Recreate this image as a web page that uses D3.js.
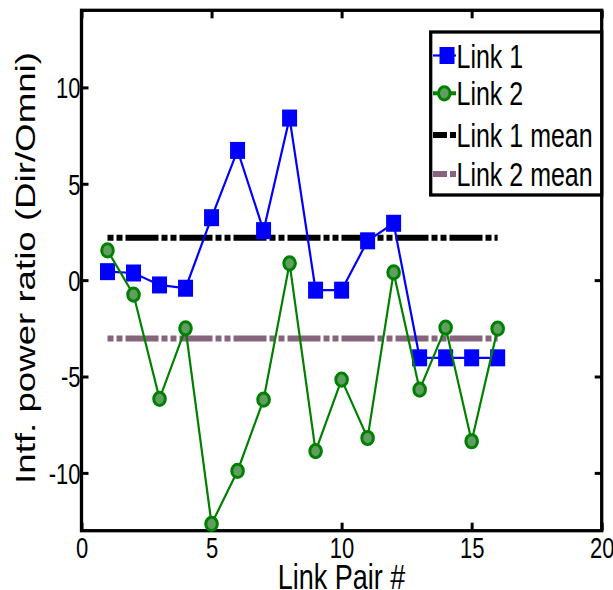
<!DOCTYPE html>
<html>
<head>
<meta charset="utf-8">
<script src="https://cdn.jsdelivr.net/npm/d3@7"></script>
<style>
  body { margin: 0; background: #fff; }
  svg { display: block; font-family: "Liberation Sans", Arial, sans-serif; }
</style>
</head>
<body>
<svg id="view" width="613" height="590"></svg>
<script>
// data
const linkPairs = [1, 2, 3, 4, 5, 6, 7, 8, 9, 10, 11, 12, 13, 14, 15, 16];
const link1 = [0.44, 0.37, -0.25, -0.42, 3.24, 6.73, 2.57, 8.41, -0.52, -0.52, 2.04, 2.95, -4.03, -4.03, -4.03, -4.03];
const link2 = [1.54, -0.75, -6.16, -2.5, -12.65, -9.9, -6.2, 0.87, -8.87, -5.16, -8.19, 0.4, -5.68, -2.46, -8.36, -2.52];
const link1Mean = 2.2;
const link2Mean = -3.03;
const xTicks = [0, 5, 10, 15, 20];
const yTicks = [-10, -5, 0, 5, 10];
const legendLabels = ['Link 1', 'Link 2', 'Link 1 mean', 'Link 2 mean'];

const BLUE = '#0000ff', GREEN = '#008000', PURPLE = '#85647c';
const SY = 1.31; // picture is stretched vertically

const margin = {top: 10.3, right: 11.3, bottom: 59.3, left: 81.5};
const W = 613, H = 590;
const width = W - margin.left - margin.right;
const height = H - margin.top - margin.bottom;

const svg = d3.select('#view');
const g = svg.append('g')
    .attr('transform', 'translate(' + margin.left + ',' + margin.top + ')');

const x = d3.scaleLinear().domain([0, 20]).range([0, width]);
const y = d3.scaleLinear().domain([-13, 14]).range([height, 0]);

// axes: ticks inward on all four sides
const styleAxis = sel => {
    sel.select('.domain').remove();
    sel.selectAll('.tick line').attr('stroke', '#000').attr('stroke-width', 3);
};

g.append('g')
    .attr('transform', `translate(0,${height})`)
    .call(d3.axisBottom(x).tickValues(xTicks).tickSizeInner(-8).tickSizeOuter(0).tickFormat(d3.format('d')))
    .call(styleAxis)
    .call(a => a.selectAll('.tick text')
        .attr('font-size', 22).attr('fill', '#000')
        .attr('y', 27.5 / SY).attr('dy', 0)
        .attr('transform', `scale(1,${SY})`));

g.append('g')
    .call(d3.axisTop(x).tickValues(xTicks).tickSizeInner(-8).tickSizeOuter(0).tickFormat(''))
    .call(styleAxis);

g.append('g')
    .call(d3.axisLeft(y).tickValues(yTicks).tickSizeInner(-7).tickSizeOuter(0).tickFormat(d => d < 0 ? '-' + (-d) : d))
    .call(styleAxis)
    .call(a => a.selectAll('.tick text')
        .attr('font-size', 22).attr('fill', '#000')
        .attr('x', -1).attr('dy', '0.358em')
        .attr('transform', `scale(1,${SY})`));

g.append('g')
    .attr('transform', `translate(${width},0)`)
    .call(d3.axisRight(y).tickValues(yTicks).tickSizeInner(-7).tickSizeOuter(0).tickFormat(''))
    .call(styleAxis);

g.append('rect')
    .attr('width', width).attr('height', height)
    .attr('fill', 'none').attr('stroke', '#000').attr('stroke-width', 3.3);

// mean lines
const meanDash = '6,3,6,3,33,3';
[[link1Mean, '#000'], [link2Mean, PURPLE]].forEach(([m, c]) => {
    g.append('line')
        .attr('x1', x(linkPairs[0])).attr('x2', x(linkPairs[linkPairs.length - 1]))
        .attr('y1', y(m)).attr('y2', y(m))
        .attr('stroke', c).attr('stroke-width', 6)
        .attr('stroke-dasharray', meanDash);
});

// series
const line = d3.line().x(d => x(d[0])).y(d => y(d[1]));
const s1 = linkPairs.map((d, i) => [d, link1[i]]);
const s2 = linkPairs.map((d, i) => [d, link2[i]]);

g.append('path').datum(s1).attr('d', line)
    .attr('fill', 'none').attr('stroke', BLUE).attr('stroke-width', 2.2);
g.selectAll('.sq').data(s1).enter().append('rect')
    .attr('class', 'sq')
    .attr('x', d => x(d[0]) - 7.5).attr('y', d => y(d[1]) - 8.5)
    .attr('width', 15).attr('height', 17)
    .attr('fill', BLUE);

g.append('path').datum(s2).attr('d', line)
    .attr('fill', 'none').attr('stroke', GREEN).attr('stroke-width', 2.2);
g.selectAll('.ci').data(s2).enter().append('ellipse')
    .attr('class', 'ci')
    .attr('cx', d => x(d[0])).attr('cy', d => y(d[1]))
    .attr('rx', 5.8).attr('ry', 6.6)
    .attr('fill', '#5f9e5f').attr('stroke', GREEN).attr('stroke-width', 3);

// legend
const lg = svg.append('g');
lg.append('rect')
    .attr('x', 430.7).attr('y', 32).attr('width', 171).attr('height', 163)
    .attr('fill', '#fff').attr('stroke', '#000').attr('stroke-width', 3.3);

const rowsY = [55.5, 93.3, 135, 174];
legendLabels.forEach((lab, i) => {
    const ry = rowsY[i];
    const ln = lg.append('line')
        .attr('x1', 433).attr('x2', 456).attr('y1', ry).attr('y2', ry);
    if (i === 0) {
        ln.attr('stroke', BLUE).attr('stroke-width', 2.2);
        lg.append('rect').attr('x', 439.5).attr('y', ry - 8.5).attr('width', 15).attr('height', 17).attr('fill', BLUE);
    } else if (i === 1) {
        ln.attr('stroke', GREEN).attr('stroke-width', 4);
        lg.append('ellipse').attr('cx', 444.3).attr('cy', ry).attr('rx', 5.8).attr('ry', 6.6)
            .attr('fill', '#5f9e5f').attr('stroke', GREEN).attr('stroke-width', 3);
    } else {
        ln.attr('stroke', i === 2 ? '#000' : PURPLE).attr('stroke-width', 6)
            .attr('stroke-dasharray', '14,3,6,3');
    }
    lg.append('text')
        .attr('transform', `translate(456.5,${ry + 12}) scale(1,${SY})`)
        .attr('font-size', 25).attr('fill', '#000')
        .text(lab);
});

// axis titles
svg.append('text')
    .attr('transform', `translate(${margin.left + x(10)},588.5) scale(1,${SY})`)
    .attr('text-anchor', 'middle').attr('font-size', 27).attr('fill', '#000')
    .text('Link Pair #');

svg.append('text')
    .attr('transform', `translate(35,268) rotate(-90) scale(${SY},1)`)
    .attr('text-anchor', 'middle').attr('font-size', 28).attr('fill', '#000')
    .text('Intf. power ratio (Dir/Omni)');
</script>
</body>
</html>
